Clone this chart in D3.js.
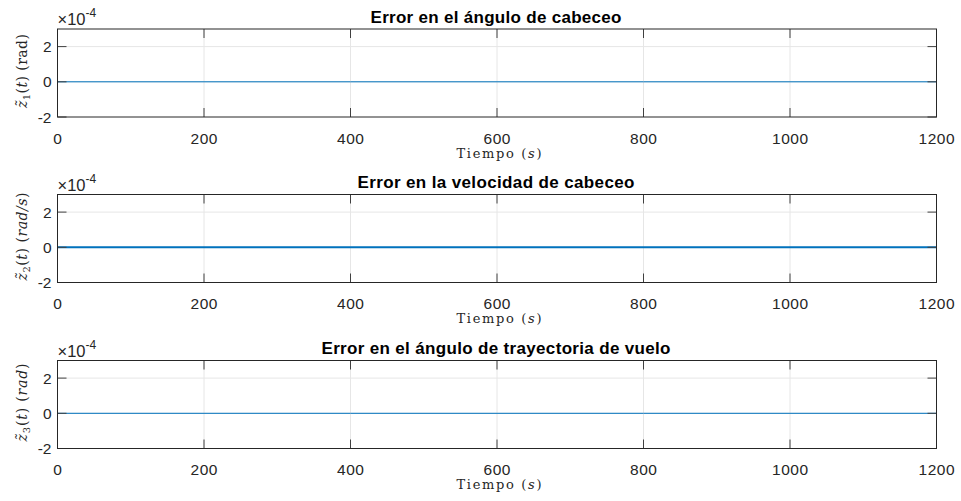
<!DOCTYPE html>
<html>
<head>
<meta charset="utf-8">
<script src="https://cdn.jsdelivr.net/npm/d3@7"></script>
<style>
  body { margin: 0; background: #fff; }
  svg { display: block; }
</style>
</head>
<body>
<svg id="chart" width="961" height="501"></svg>
<script>
// data
const titles = [
  'Error en el ángulo de cabeceo',
  'Error en la velocidad de cabeceo',
  'Error en el ángulo de trayectoria de vuelo'
];
const yUnits = ['rad', 'rad/s', 'rad'];
const yUnitItalic = [false, true, true];
const xTicks = [0, 200, 400, 600, 800, 1000, 1200];
const yTicks = [-2, 0, 2];          // x 1e-4
const timeSec = [0, 200, 400, 600, 800, 1000, 1200];
const z1Err = [0, 0, 0, 0, 0, 0, 0];
const z2Err = [0, 0, 0, 0, 0, 0, 0];
const z3Err = [0, 0, 0, 0, 0, 0, 0];
const series = [z1Err, z2Err, z3Err];

// sizes measured on the reference
const lineWidths = [1, 2, 1];
const titleLen = [251, 277, 349];
const yLabelLen = [74, 88, 78];

const svg = d3.select('#chart');
const left = 57.5, right = 936.5;
const tops = [29, 194.5, 360.5];
const plotH = 88;
const sans = 'Liberation Sans, Arial, Helvetica, sans-serif';
const serif = 'DejaVu Serif, Liberation Serif, serif';

const x = d3.scaleLinear().domain([0, 1200]).range([left, right]);

series.forEach(function(vals, i) {
  const top = tops[i];
  const y = d3.scaleLinear().domain([-2, 3]).range([top + plotH, top]);
  const g = svg.append('g');

  // grid
  g.selectAll('.gx').data(xTicks.slice(1, -1)).enter().append('line')
    .attr('x1', d => x(d)).attr('x2', d => x(d))
    .attr('y1', top).attr('y2', top + plotH)
    .attr('stroke', '#e6e6e6').attr('stroke-width', 1);
  g.selectAll('.gy').data([0, 2]).enter().append('line')
    .attr('x1', left).attr('x2', right)
    .attr('y1', d => y(d)).attr('y2', d => y(d))
    .attr('stroke', '#e6e6e6').attr('stroke-width', 1);

  // data line
  const line = d3.line().x((d, k) => x(timeSec[k])).y(d => y(d * 1e4));
  g.append('path').datum(vals)
    .attr('d', line)
    .attr('fill', 'none')
    .attr('stroke', '#0072BD')
    .attr('stroke-width', lineWidths[i]);

  // ticks inside the box
  const tl = 9;
  xTicks.forEach(function(t) {
    g.append('line').attr('x1', x(t)).attr('x2', x(t))
      .attr('y1', top + plotH).attr('y2', top + plotH - tl)
      .attr('stroke', '#404040');
    g.append('line').attr('x1', x(t)).attr('x2', x(t))
      .attr('y1', top).attr('y2', top + tl)
      .attr('stroke', '#404040');
  });
  yTicks.forEach(function(t) {
    g.append('line').attr('x1', left).attr('x2', left + tl)
      .attr('y1', y(t)).attr('y2', y(t)).attr('stroke', '#404040');
    g.append('line').attr('x1', right).attr('x2', right - tl)
      .attr('y1', y(t)).attr('y2', y(t)).attr('stroke', '#404040');
  });

  // box
  g.append('rect')
    .attr('x', left).attr('y', top)
    .attr('width', right - left).attr('height', plotH)
    .attr('fill', 'none').attr('stroke', '#262626').attr('stroke-width', 1);

  // tick labels
  g.selectAll('.xl').data(xTicks).enter().append('text')
    .attr('x', d => x(d) + 0.3).attr('y', top + plotH + 26.5)
    .attr('text-anchor', 'middle')
    .style('font-family', sans)
    .style('font-size', '15.5px').style('letter-spacing', '0.5px')
    .style('fill', '#262626')
    .text(d => d);
  g.selectAll('.yl').data(yTicks).enter().append('text')
    .attr('x', left - 6).attr('y', d => y(d) + 5.5)
    .attr('text-anchor', 'end')
    .style('font-family', sans)
    .style('font-size', '15.5px')
    .style('fill', '#262626')
    .text(d => d);

  // exponent
  const ex = g.append('text')
    .attr('x', left).attr('y', top - 4)
    .style('font-family', sans)
    .style('font-size', '16.5px').style('fill', '#262626');
  ex.append('tspan').style('font-weight', '300').text('×');
  ex.append('tspan').text('10');
  ex.append('tspan').attr('dy', -8).style('font-size', '12px').text('-4');

  // title
  g.append('text')
    .attr('x', (left + right) / 2 - 1).attr('y', top - 6.5)
    .attr('text-anchor', 'middle')
    .attr('textLength', titleLen[i]).attr('lengthAdjust', 'spacing')
    .style('font-family', sans)
    .style('font-size', '17px').style('font-weight', 'bold')
    .style('fill', '#000')
    .text(titles[i]);

  // x label
  const xl = g.append('text')
    .attr('x', (left + right) / 2 + 2).attr('y', top + plotH + 40.5)
    .attr('text-anchor', 'middle')
    .attr('textLength', 85).attr('lengthAdjust', 'spacing')
    .style('font-family', serif)
    .style('font-size', '13px').style('fill', '#262626');
  xl.append('tspan').text('Tiempo (');
  xl.append('tspan').style('font-style', 'italic').text('s');
  xl.append('tspan').text(')');

  // y label
  const yl = g.append('text')
    .attr('transform', 'translate(27,' + (top + plotH / 2 - 2) + ') rotate(-90)')
    .attr('text-anchor', 'middle')
    .attr('textLength', yLabelLen[i]).attr('lengthAdjust', 'spacing')
    .style('font-family', serif)
    .style('font-size', '14px').style('fill', '#262626');
  yl.append('tspan').style('font-style', 'italic').text('z̃');
  yl.append('tspan').attr('dy', 3).style('font-size', '10px').text(i + 1);
  yl.append('tspan').attr('dy', -3).text('(');
  yl.append('tspan').style('font-style', 'italic').text('t');
  yl.append('tspan').text(') (');
  yl.append('tspan').style('font-style', yUnitItalic[i] ? 'italic' : 'normal')
    .text(yUnits[i]);
  yl.append('tspan').text(')');
});
</script>
</body>
</html>
